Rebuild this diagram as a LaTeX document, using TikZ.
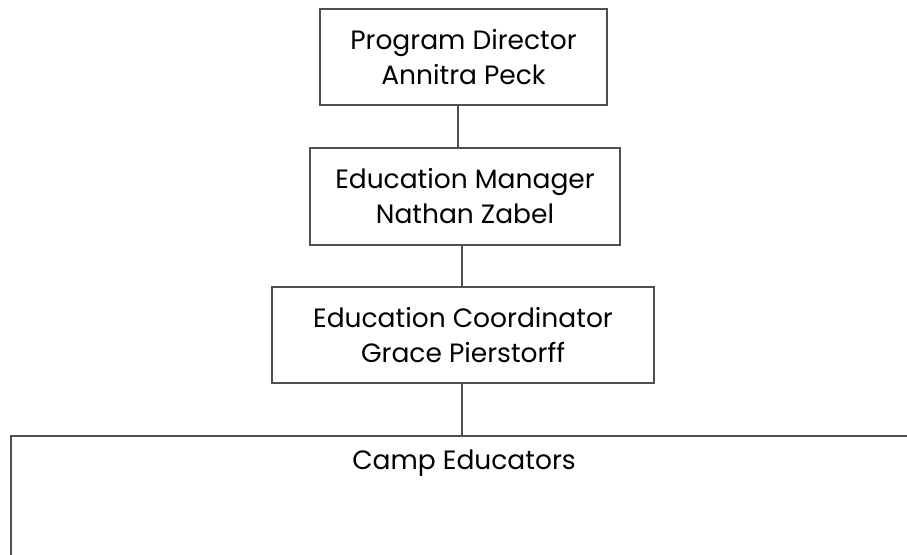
\documentclass[tikz,border=0pt]{standalone}
\usepackage{fontspec}
\setmainfont{Poppins}
\usetikzlibrary{positioning}
\definecolor{framegray}{RGB}{80,80,80}
\tikzset{
    rolebox/.style={draw=framegray, line width=1.5pt, align=center, inner sep=0pt,
        font=\fontsize{26.5}{35}\selectfont},
    link/.style={draw=framegray, line width=1.5pt}
}

\begin{document}
\begin{tikzpicture}[x=1pt,y=-1pt]
            \useasboundingbox (0,0) rectangle (907,554);
            \clip (0,0) rectangle (907,554);

            \node (director) [rolebox, minimum width=287pt, minimum height=96pt] at (463.5,57) {Program Director\\Annitra Peck};
            \node (manager) [rolebox, minimum width=310pt, minimum height=97pt] at (465,196.5) {Education Manager\\Nathan Zabel};
            \node (coordinator) [rolebox, minimum width=382pt, minimum height=96pt] at (463,335) {Education Coordinator\\Grace Pierstorff};
            \node (camp) [rolebox, anchor=north west, minimum width=940pt, minimum height=180pt] at (10,435) {};
            \node (camptitle) [font=\fontsize{26.5}{35}\selectfont] at (464,463) {Camp Educators};

            \draw[link] ([xshift=-5.5pt]director.south) -- ([xshift=-5.5pt]director.south |- manager.north);
            \draw[link] ([xshift=-3pt]manager.south) -- ([xshift=-3pt]manager.south |- coordinator.north);
            \draw[link] ([xshift=-1pt]coordinator.south) -- ([xshift=-1pt]coordinator.south |- camp.north);
        \end{tikzpicture}
\end{document}
